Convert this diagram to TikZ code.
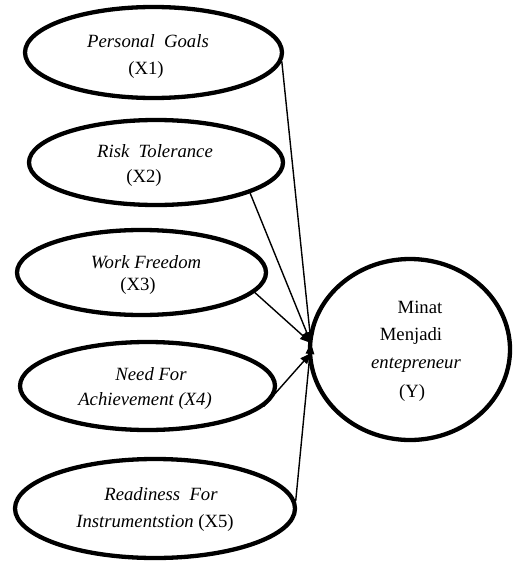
\documentclass[tikz,border=0pt]{standalone}
\usepackage{fontspec}
\setmainfont{Liberation Serif}
\usetikzlibrary{shapes.geometric,arrows.meta}
\begin{document}
\begin{tikzpicture}[x=1pt,y=-1pt,
  oval/.style={ellipse,draw,line width=4.3pt,inner sep=0pt},
  txt/.style={anchor=base,inner sep=0pt,font=\fontsize{18.7}{22}\selectfont},
  conn/.style={line width=1.4pt,-{Triangle[length=11pt,width=8.5pt]}}]
\useasboundingbox (0,0) rectangle (513,562);
% ovals
\node[oval,minimum width=257pt,minimum height=91pt] (e1) at (153.5,52.5) {};
\node[oval,minimum width=254pt,minimum height=85pt] (e2) at (156,162.5) {};
\node[oval,minimum width=249pt,minimum height=85pt] (e3) at (141.5,272.5) {};
\node[oval,minimum width=255pt,minimum height=88pt] (e4) at (147.5,386) {};
\node[oval,minimum width=280pt,minimum height=99pt] (e5) at (155,508.5) {};
\node[oval,minimum width=200pt,minimum height=181pt] (Y) at (410,349.5) {};
% texts
\node[txt] (t1a) at (148,47) {\itshape Personal\ \ Goals};
\node[txt] (t1b) at (146,74) {(X1)};
\node[txt] (t2a) at (155,157) {\itshape Risk\ \ Tolerance};
\node[txt] (t2b) at (144,182) {(X2)};
\node[txt] (t3a) at (146,268) {\itshape Work Freedom};
\node[txt] (t3b) at (138,290) {(X3)};
\node[txt] (t4a) at (151,380) {\itshape Need For};
\node[txt] (t4b) at (145,405) {\itshape Achievement (X4)};
\node[txt] (t5a) at (161,500) {\itshape Readiness\ \ For};
\node[txt] (t5b) at (155,527) {\itshape Instrumentstion \upshape(X5)};
\node[txt] (ya) at (420,313) {Minat};
\node[txt] (yb) at (411,340) {Menjadi};
\node[txt] (yc) at (416,368) {\itshape entepreneur};
\node[txt] (yd) at (412,397) {(Y)};
% connectors
\coordinate (p1) at (311,343);
\coordinate (p2) at (311,353);
\draw[conn] (e1.-4) -- (p1);
\draw[conn] (e2.-18) -- (p1);
\draw[conn] (e3.-10) -- (p1);
\draw[conn] (e4.-10) -- (p2);
\draw[conn] (e5.3) -- (p1);
\end{tikzpicture}
\end{document}
